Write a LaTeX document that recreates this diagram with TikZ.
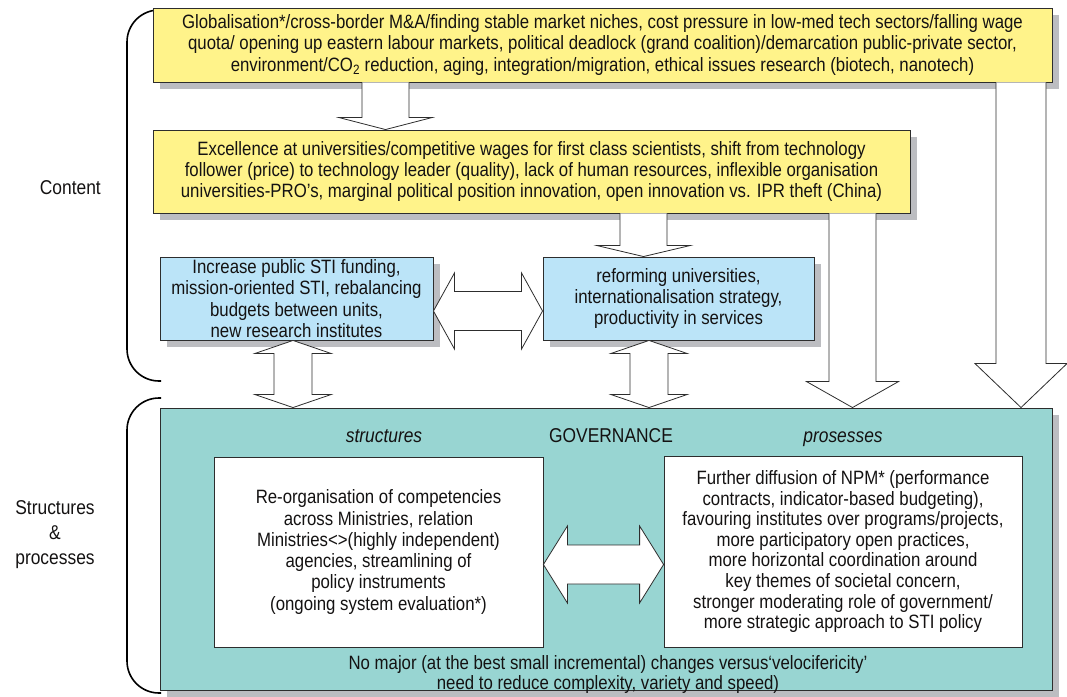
\documentclass[tikz,border=0pt]{standalone}
\usepackage{fontspec}
\setmainfont[FakeStretch=0.87]{Liberation Sans}
\usetikzlibrary{calc,shadows}

\definecolor{boxyellow}{RGB}{255,243,138}
\definecolor{boxblue}{RGB}{187,228,248}
\definecolor{govteal}{RGB}{152,213,210}
\definecolor{shadowgray}{RGB}{188,189,193}
\definecolor{edge}{RGB}{45,45,45}
\definecolor{txt}{RGB}{20,18,18}

% block arrow pointing down, open at its tail
\newcommand\downblock[6]{% x, from, to, shaft half width, head half width, head length
  \fill[white] let \p1=(#2), \p2=(#3) in
    (#1-#4,\y1) -- (#1-#4,\y2+#6) -- (#1-#5,\y2+#6) -- (#1,\y2) --
    (#1+#5,\y2+#6) -- (#1+#4,\y2+#6) -- (#1+#4,\y1) -- cycle;
  \draw[blockline] let \p1=(#2), \p2=(#3) in
    (#1-#4,\y1) -- (#1-#4,\y2+#6) -- (#1-#5,\y2+#6) -- (#1,\y2) --
    (#1+#5,\y2+#6) -- (#1+#4,\y2+#6) -- (#1+#4,\y1);}

% vertical two-headed block arrow
\newcommand\vdouble[6]{% x, upper end, lower end, shaft, head, head length
  \draw[blockline,fill=white] let \p1=(#2), \p2=(#3) in
    (#1,\y1) -- (#1+#5,\y1-#6) -- (#1+#4,\y1-#6) -- (#1+#4,\y2+#6) --
    (#1+#5,\y2+#6) -- (#1,\y2) -- (#1-#5,\y2+#6) -- (#1-#4,\y2+#6) --
    (#1-#4,\y1-#6) -- (#1-#5,\y1-#6) -- cycle;}

% horizontal two-headed block arrow
\newcommand\hdouble[6]{% y, left end, right end, shaft, head, head length
  \draw[blockline,fill=white] let \p1=(#2), \p2=(#3) in
    (\x1,#1) -- (\x1+#6,#1+#5) -- (\x1+#6,#1+#4) -- (\x2-#6,#1+#4) --
    (\x2-#6,#1+#5) -- (\x2,#1) -- (\x2-#6,#1-#5) -- (\x2-#6,#1-#4) --
    (\x1+#6,#1-#4) -- (\x1+#6,#1-#5) -- cycle;}

\tikzset{
  blockline/.style={draw=edge, line width=0.8pt, line join=miter},
  box/.style={draw=edge, line width=0.9pt, align=center, inner sep=0pt,
    text=txt, font=\fontsize{19.3}{21.2}\selectfont},
  shadowed/.style={drop shadow={shadow xshift=7pt, shadow yshift=-7pt,
    fill=shadowgray, opacity=1}},
  plain/.style={align=center, inner sep=0pt, text=txt,
    font=\fontsize{19.3}{20.5}\selectfont},
  heading/.style={anchor=base, inner sep=0pt, text=txt,
    font=\fontsize{20}{22}\selectfont},
  sidelabel/.style={align=center, inner sep=0pt, text=txt,
    font=\fontsize{20}{25}\selectfont},
  bracket/.style={draw=black, line width=1.6pt, rounded corners=32pt}
}

\begin{document}
\begin{tikzpicture}[x=1pt,y=-1pt]
\useasboundingbox (0,0) rectangle (1067,696);

% side brackets and their labels
\draw[bracket] (161,10) -- (127,10) -- (127,381) -- (161,381);
\draw[bracket] (161,398) -- (127,398) -- (127,693) -- (161,693);
\node[sidelabel, anchor=east] (content) at (101,188) {Content};
\node[sidelabel] (strproc) at (55,535) {Structures\\\&\\processes};

% content boxes
\node[box, shadowed, fill=boxyellow, minimum width=899, minimum height=74]
  (top) at (602.5,45) {Globalisation*/cross-border M\&A/finding stable market niches, cost pressure in low-med tech sectors/falling wage\\
  quota/ opening up eastern labour markets, political deadlock (grand coalition)/demarcation public-private sector,\\
  environment/CO\textsubscript{2} reduction, aging, integration/migration, ethical issues research (biotech, nanotech)};

\node[box, shadowed, fill=boxyellow, minimum width=757, minimum height=83]
  (mid) at (531.5,171.5) {Excellence at universities/competitive wages for first class scientists, shift from technology\\
  follower (price) to technology leader (quality), lack of human resources, inflexible organisation\\
  universities-PRO’s, marginal political position innovation, open innovation vs. IPR theft (China)};

\node[box, shadowed, fill=boxblue, minimum width=273, minimum height=83]
  (blueL) at (296.5,298.5) {Increase public STI funding,\\mission-oriented STI, rebalancing\\budgets between units,\\new research institutes};

\node[box, shadowed, fill=boxblue, minimum width=271, minimum height=83]
  (blueR) at (678.5,298.5) {reforming universities,\\internationalisation strategy,\\productivity in services};

% governance panel
\node[box, shadowed, fill=govteal, minimum width=892, minimum height=282]
  (gov) at (606,549) {};
\node[heading, font=\fontsize{20}{22}\selectfont\itshape] (structures) at (384,442) {structures};
\node[heading] (governance) at (611,442) {GOVERNANCE};
\node[heading, font=\fontsize{20}{22}\selectfont\itshape] (prosesses) at (843,442) {prosesses};

\node[box, fill=white, minimum width=329, minimum height=190, line width=0.8pt]
  (whiteL) at (378.5,552) {Re-organisation of competencies\\across Ministries, relation\\Ministries<>(highly independent)\\agencies, streamlining of\\policy instruments\\(ongoing system evaluation*)};

\node[box, fill=white, minimum width=358, minimum height=191, line width=0.8pt, font=\fontsize{19.3}{20.6}\selectfont]
  (whiteR) at (843,551.5) {Further diffusion of NPM* (performance\\contracts, indicator-based budgeting),\\favouring institutes over programs/projects,\\more participatory open practices,\\more horizontal coordination around\\key themes of societal concern,\\stronger moderating role of government/\\more strategic approach to STI policy};

\node[plain] (summary) at (608,674.5) {No major (at the best small incremental) changes versus‘velocifericity’\\need to reduce complexity, variety and speed)};

% block arrows
\downblock{385.5pt}{top.south}{mid.north}{23.5pt}{46.5pt}{12pt}
\downblock{643.5pt}{mid.south}{blueR.north}{23.5pt}{46.5pt}{11pt}
\downblock{852.5pt}{mid.south}{gov.north}{23.5pt}{46pt}{26pt}
\downblock{1021pt}{top.south}{gov.north}{25pt}{46pt}{44pt}

\vdouble{293pt}{blueL.south}{gov.north}{19pt}{38pt}{13pt}
\vdouble{649pt}{blueR.south}{gov.north}{19pt}{38pt}{13pt}

\hdouble{-311pt}{blueL.east}{blueR.west}{19.5pt}{38pt}{21pt}
\hdouble{-564.5pt}{whiteL.east}{whiteR.west}{19.5pt}{38.5pt}{24pt}
\end{tikzpicture}
\end{document}
